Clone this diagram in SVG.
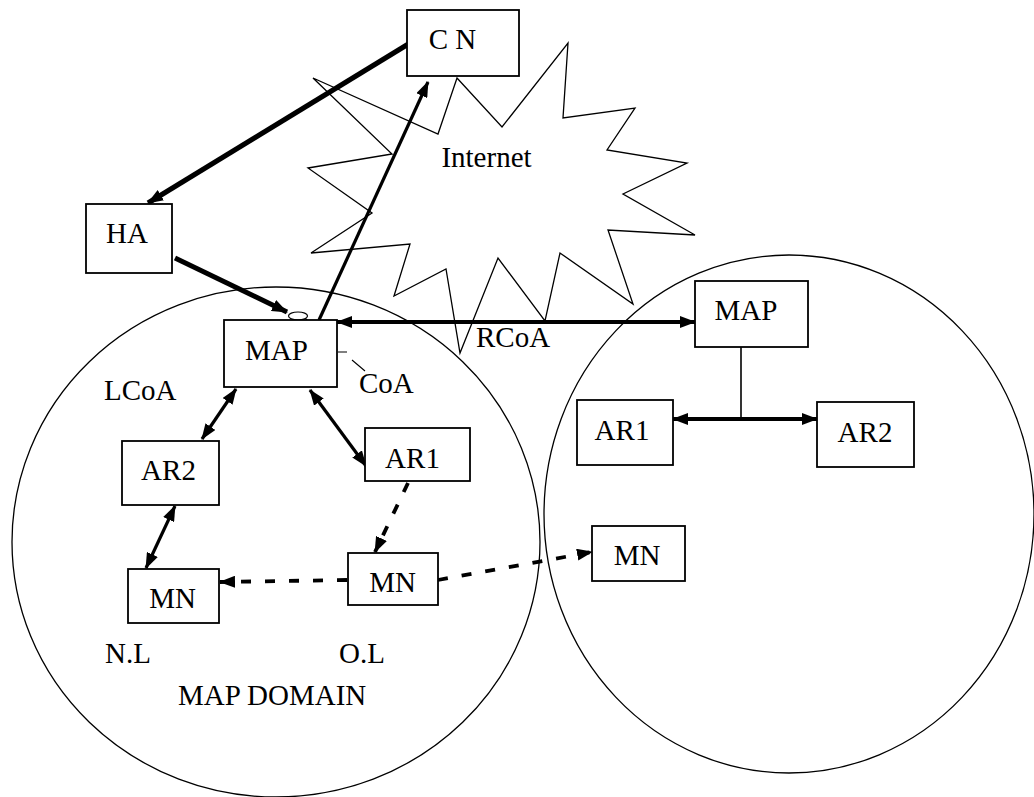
<svg xmlns="http://www.w3.org/2000/svg" width="1034" height="797" viewBox="0 0 1034 797">
<style>
.bg{fill:#fff}
.box{fill:#fff;stroke:#000;stroke-width:1.8}
.thin{fill:none;stroke:#000;stroke-width:1.3}
.t{font-family:"Liberation Serif","Times New Roman",serif;font-size:29px;fill:#000}
.c{text-anchor:middle}
.ar{fill:none;stroke:#000;stroke-width:3.8}
.dash{stroke-dasharray:10 14}
</style>
<defs>
<marker id="ah" markerUnits="userSpaceOnUse" markerWidth="16" markerHeight="12" refX="15" refY="6" orient="auto-start-reverse">
<path d="M0,0 L16,6 L0,12 z" fill="#000"/>
</marker>
</defs>
<rect class="bg" x="0" y="0" width="1034" height="797"/>

<g id="domains">
<ellipse class="thin" cx="276" cy="542" rx="264" ry="255"/>
<ellipse class="thin" cx="789" cy="514" rx="245" ry="259"/>
</g>

<g id="internet">
<polygon class="thin" points="457,78 502,127 568,43 563,118 635,108 607,150 687,163 623,194 695,235 608,230 633,304 560,253 545,321 498,258 460,353 446,269 394,296 410,244 311,253 372,213 308,168 392,154 313,78 438,134"/>
<text class="t c" x="486.5" y="167">Internet</text>
</g>

<g id="connectors">
<line class="ar" x1="410" y1="43" x2="148" y2="203" style="stroke-width:5" marker-end="url(#ah)"/>
<line class="ar" x1="175" y1="258" x2="287" y2="312" style="stroke-width:5" marker-end="url(#ah)"/>
<line class="ar" x1="319" y1="320" x2="428" y2="82" style="stroke-width:3.2" marker-end="url(#ah)"/>
<line class="ar" x1="337" y1="322" x2="695" y2="322" marker-start="url(#ah)" marker-end="url(#ah)"/>
<line class="ar" x1="236" y1="389" x2="202" y2="439" style="stroke-width:3.2" marker-start="url(#ah)" marker-end="url(#ah)"/>
<line class="ar" x1="310" y1="390" x2="366" y2="466" style="stroke-width:3.2" marker-start="url(#ah)" marker-end="url(#ah)"/>
<line class="ar" x1="175" y1="506" x2="146" y2="568" style="stroke-width:3.2" marker-start="url(#ah)" marker-end="url(#ah)"/>
<line class="ar dash" x1="408" y1="483" x2="375" y2="552" marker-end="url(#ah)"/>
<line class="ar dash" x1="347" y1="580" x2="220" y2="582" marker-end="url(#ah)"/>
<line class="ar dash" x1="438" y1="580" x2="592" y2="552" marker-end="url(#ah)"/>
<line class="thin" x1="741" y1="347" x2="741" y2="419" style="stroke-width:1.6"/>
<line class="ar" x1="673" y1="419" x2="817" y2="419" marker-start="url(#ah)" marker-end="url(#ah)"/>
<path class="thin" d="M305,318 L337,350 M338,352 L347,352 M352,360 L365,371" style="stroke-width:1.1"/>
<ellipse cx="298" cy="316" rx="9.5" ry="4" fill="#fff" stroke="#000" stroke-width="1.2"/>
</g>

<g id="CN"><rect class="box" x="407" y="10" width="112" height="66"/><text class="t c" x="452.5" y="49">C N</text></g>
<g id="HA"><rect class="box" x="86" y="204" width="86" height="69"/><text class="t c" x="127" y="243">HA</text></g>
<g id="MAP1"><rect class="box" x="224" y="320" width="113" height="67"/><text class="t c" x="276.5" y="360">MAP</text></g>
<g id="AR2a"><rect class="box" x="122" y="441" width="97" height="64"/><text class="t c" x="168.5" y="480">AR2</text></g>
<g id="AR1a"><rect class="box" x="365" y="428" width="105" height="53"/><text class="t c" x="412.5" y="468">AR1</text></g>
<g id="MNa"><rect class="box" x="128" y="569" width="91" height="54"/><text class="t c" x="172.5" y="608">MN</text></g>
<g id="MNb"><rect class="box" x="348" y="553" width="90" height="52"/><text class="t c" x="392.5" y="592">MN</text></g>
<g id="MNc"><rect class="box" x="592" y="526" width="93" height="55"/><text class="t c" x="637" y="565">MN</text></g>
<g id="MAP2"><rect class="box" x="695" y="281" width="113" height="66"/><text class="t c" x="746" y="320">MAP</text></g>
<g id="AR1b"><rect class="box" x="577" y="400" width="96" height="65"/><text class="t c" x="622" y="440">AR1</text></g>
<g id="AR2b"><rect class="box" x="817" y="402" width="97" height="65"/><text class="t c" x="865" y="442">AR2</text></g>

<g id="labels">
<text class="t" x="476" y="347">RCoA</text>
<text class="t" x="104" y="400">LCoA</text>
<text class="t" x="359" y="393">CoA</text>
<text class="t" x="105" y="663">N.L</text>
<text class="t" x="339" y="663">O.L</text>
<text class="t" x="178" y="705">MAP DOMAIN</text>
</g>
</svg>
